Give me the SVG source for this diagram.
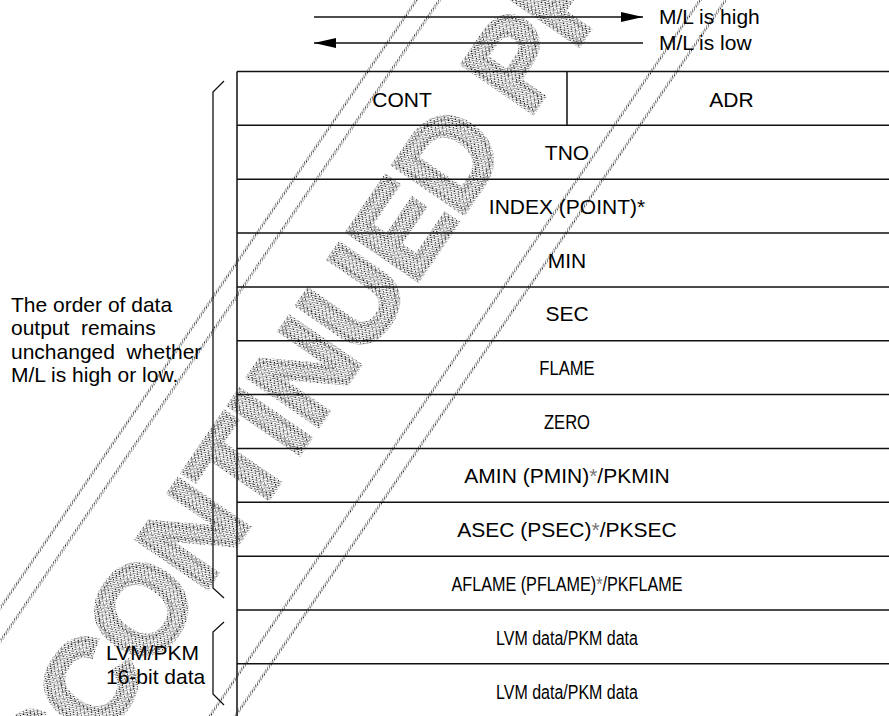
<svg xmlns="http://www.w3.org/2000/svg" width="889" height="716" viewBox="0 0 889 716">
<style>
  .t{font-family:"Liberation Sans",Arial,sans-serif;font-size:21px;fill:#000}
  .c{text-anchor:middle}
  .ln{stroke:#111;stroke-width:1.5;fill:none}
  .br{stroke:#111;stroke-width:1.3;fill:none}
  .ar{stroke:#111;stroke-width:1.3;fill:none}
  .ast{fill:#777}
  .wm{font-family:"Liberation Sans",Arial,sans-serif;font-size:122px;font-weight:bold;fill:url(#stip);stroke:url(#stip);stroke-width:6}
  .wl{stroke:url(#stip2);stroke-width:3;fill:none}
</style>
<defs>
  <pattern id="stip" patternUnits="userSpaceOnUse" width="5" height="5">
    <rect x="0" y="0" width="1" height="1" fill="#000"/>
    <rect x="2" y="0" width="1" height="1" fill="#999"/>
    <rect x="3" y="1" width="1" height="1" fill="#333"/>
    <rect x="1" y="1" width="1" height="1" fill="#bbb"/>
    <rect x="4" y="2" width="1" height="1" fill="#777"/>
    <rect x="0" y="3" width="1" height="1" fill="#999"/>
    <rect x="2" y="3" width="1" height="1" fill="#111"/>
    <rect x="1" y="4" width="1" height="1" fill="#666"/>
    <rect x="4" y="4" width="1" height="1" fill="#aaa"/>
  </pattern>
  <pattern id="stip2" patternUnits="userSpaceOnUse" width="3" height="3">
    <rect x="0" y="0" width="1" height="1" fill="#111"/>
    <rect x="2" y="1" width="1" height="1" fill="#777"/>
    <rect x="1" y="2" width="1" height="1" fill="#444"/>
  </pattern>
  <marker id="ah" viewBox="0 0 22 10" refX="22" refY="5" markerWidth="22" markerHeight="10" markerUnits="userSpaceOnUse" orient="auto">
    <path d="M0,0 L22,5 L0,10 Z" fill="#000"/>
  </marker>
</defs>
<rect width="889" height="716" fill="#fff"/>

<g id="watermark" transform="translate(-15.5,912.4) rotate(-55.6)">
  <line class="wl" x1="-400" y1="-159" x2="1700" y2="-159"/>
  <line class="wl" x1="-400" y1="-140" x2="1700" y2="-140"/>
  <line class="wl" x1="-400" y1="75" x2="1700" y2="75"/>
  <line class="wl" x1="-400" y1="96" x2="1700" y2="96"/>
  <text class="wm" x="0" y="0">DISCONTINUED PRODUCT</text>
</g>

<g id="connectors">
  <line class="ar" x1="314" y1="17" x2="643" y2="17" marker-end="url(#ah)"/>
  <line class="ar" x1="643" y1="43" x2="314" y2="43" marker-end="url(#ah)"/>
  <path id="bracket-main" class="br" d="M224,81 L213,92 L213,588 L224,598"/>
  <path id="bracket-lvm" class="br" d="M224,622 L213,632 L213,694 L224,705"/>
</g>

<g id="legend">
  <text class="t" x="659" y="24">M/L is high</text>
  <text class="t" x="659" y="50">M/L is low</text>
</g>

<g id="note-order">
  <text class="t" xml:space="preserve" x="11" y="312">The order of data</text>
  <text class="t" xml:space="preserve" x="11" y="335">output  remains</text>
  <text class="t" xml:space="preserve" x="11" y="359">unchanged  whether</text>
  <text class="t" xml:space="preserve" x="11" y="382">M/L is high or low.</text>
</g>

<g id="note-lvm">
  <text class="t" x="106" y="659.5">LVM/PKM</text>
  <text class="t" x="106" y="683.5">16-bit data</text>
</g>

<g id="table">
  <path class="ln" d="M237,71.5 V716 M567,71.5 V125.35
    M237,71.5 H889 M237,125.35 H889 M237,179.2 H889 M237,233.05 H889
    M237,286.9 H889 M237,340.75 H889 M237,394.6 H889 M237,448.45 H889
    M237,502.3 H889 M237,556.15 H889 M237,610 H889 M237,663.85 H889"/>
  <g id="row-cont"><text class="t c" x="402" y="106.5">CONT</text></g>
  <g id="row-adr"><text class="t c" x="731.5" y="106.5">ADR</text></g>
  <g id="row-tno"><text class="t c" x="567" y="160">TNO</text></g>
  <g id="row-index"><text class="t c" x="567" y="213.8">INDEX (POINT)*</text></g>
  <g id="row-min"><text class="t c" x="567" y="267.6">MIN</text></g>
  <g id="row-sec"><text class="t c" x="567" y="321.4">SEC</text></g>
  <g id="row-flame"><text class="t c" transform="translate(567,374.5) scale(0.79,1)">FLAME</text></g>
  <g id="row-zero"><text class="t c" transform="translate(567,428.8) scale(0.79,1)">ZERO</text></g>
  <g id="row-amin"><text class="t c" x="567" y="482.8">AMIN (PMIN)<tspan class="ast">*</tspan>/PKMIN</text></g>
  <g id="row-asec"><text class="t c" x="567" y="536.7">ASEC (PSEC)<tspan class="ast">*</tspan>/PKSEC</text></g>
  <g id="row-aflame"><text class="t c" transform="translate(567,591) scale(0.77,1)">AFLAME (PFLAME)<tspan class="ast">*</tspan>/PKFLAME</text></g>
  <g id="row-lvm1"><text class="t c" transform="translate(567,645) scale(0.761,1)">LVM data/PKM data</text></g>
  <g id="row-lvm2"><text class="t c" transform="translate(567,698.5) scale(0.761,1)">LVM data/PKM data</text></g>
</g>
</svg>
